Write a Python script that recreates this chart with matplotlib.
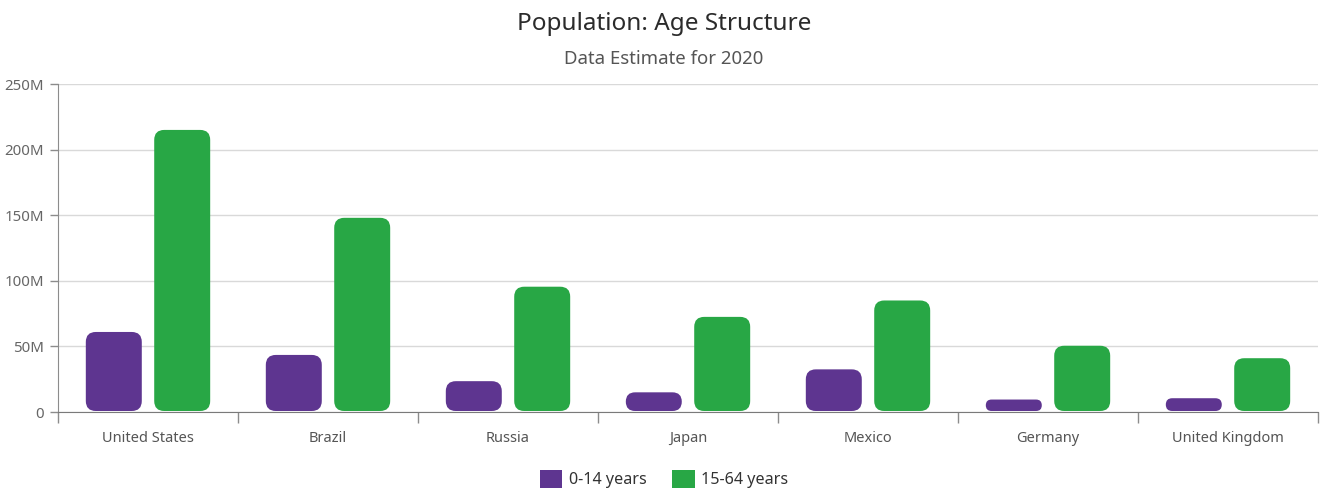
import numpy as np
import matplotlib.pyplot as plt
from matplotlib.patches import FancyBboxPatch, Patch
from matplotlib.ticker import FuncFormatter

plt.rcParams['font.family'] = ['Noto Sans', 'DejaVu Sans']

# Data (millions)
countries = ["United States", "Brazil", "Russia", "Japan", "Mexico", "Germany", "United Kingdom"]
age_0_14 = [61, 43.5, 23.5, 15, 32.5, 9.5, 10.5]
age_15_64 = [215, 148, 95.5, 72.5, 85, 50.5, 41]
series_names = ["0-14 years", "15-64 years"]
colors = ["#5e3590", "#28a745"]

W, H = 1328, 501
fig = plt.figure(figsize=(W/100, H/100), dpi=100)
ax = fig.add_axes([58/W, 1-412/H, 1260/W, 328/H])

x = np.arange(len(countries))
bw = 0.311
offs = [-0.19, 0.19]

ax.set_xlim(-0.5, len(countries)-0.5)
ax.set_ylim(0, 250)

# px per data unit
px_x = 1260/len(countries)
px_y = 328/250.0

for vals, off, c in zip([age_0_14, age_15_64], offs, colors):
    bars = ax.bar(x+off, vals, bw, color=c)
    for b in bars:
        b.set_visible(False)
        h_px = b.get_height()*px_y - 1
        r_px = min(10, h_px/2)
        gap = 1/px_y
        p = FancyBboxPatch((b.get_x(), gap), b.get_width(), b.get_height()-gap,
                           boxstyle="round,pad=0,rounding_size=%f" % (r_px/px_x),
                           mutation_aspect=px_x/px_y,
                           fc=c, ec="none", zorder=3)
        ax.add_patch(p)

ax.set_yticks(np.arange(0, 251, 50))
ax.yaxis.set_major_formatter(FuncFormatter(lambda v, p: "0" if v == 0 else "%dM" % v))
ax.grid(axis="y", color="#d9d9d9", lw=1)
ax.set_axisbelow(True)

ax.set_xticks(x)
ax.set_xticklabels(countries)
ax.set_xticks(np.arange(-0.5, len(countries), 1), minor=True)
ax.tick_params(axis="x", which="major", length=0, pad=14, labelsize=10.5, labelcolor="#555555")
ax.tick_params(axis="x", which="minor", length=8, color="#8c8c8c", width=1)
ax.tick_params(axis="y", length=6, color="#8c8c8c", width=1, pad=4, labelsize=10.8, labelcolor="#666666")

for s in ["top", "right"]:
    ax.spines[s].set_visible(False)
ax.spines["left"].set_color("#8c8c8c")
ax.spines["bottom"].set_color("#7a7a7a")

fig.text(0.5, 1-24/H, "Population: Age Structure", ha="center", va="center", fontsize=17.5, color="#2b2b2b")
fig.text(0.5, 1-59/H, "Data Estimate for 2020", ha="center", va="center", fontsize=13.4, color="#555555")

handles = [Patch(fc=c, ec="none") for c in colors]
fig.legend(handles, series_names, loc="center", bbox_to_anchor=(0.5, 1-479/H), ncol=2,
           frameon=False, fontsize=11.6, handlelength=1.4, handleheight=1.4,
           handletextpad=0.4, columnspacing=1.6, labelcolor="#333333")

fig.savefig("out.png", dpi=100)
